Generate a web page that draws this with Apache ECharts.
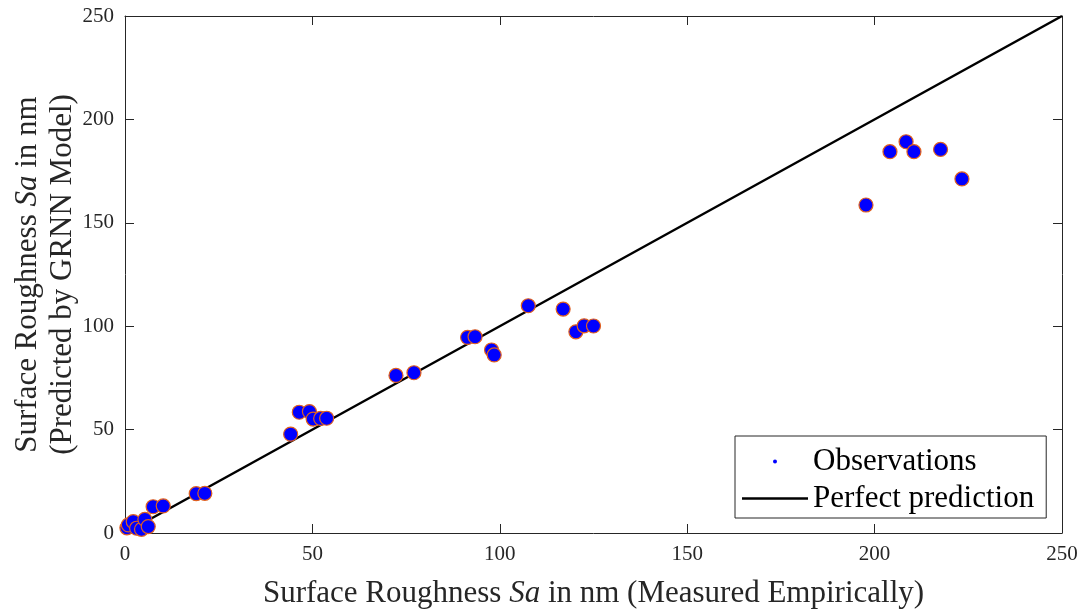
<!DOCTYPE html>
<html>
<head>
<meta charset="utf-8">
<script src="https://cdn.jsdelivr.net/npm/echarts@6/dist/echarts.min.js"></script>
<style>
  html, body { margin: 0; padding: 0; background: #fff; }
  #chart { width: 1085px; height: 612px; }
</style>
</head>
<body>
<div id="chart"></div>
<script>
// measured vs predicted Sa (nm)
const measured = [0.5, 0.9, 2.2, 3.1, 4.4, 5.3, 6.2, 7.5, 10.2, 19.0, 21.3,
  44.2, 46.5, 49.2, 50.2, 52.2, 53.8, 72.3, 77.1, 91.4, 93.4, 97.8, 98.5,
  107.6, 116.9, 120.3, 122.5, 125.0, 197.7, 204.1, 208.4, 210.5, 217.6, 223.3];
const predicted = [2.5, 3.9, 5.5, 2.3, 1.8, 6.6, 3.1, 12.7, 13.1, 19.0, 19.2,
  47.8, 58.4, 58.7, 55.1, 55.4, 55.5, 76.2, 77.5, 94.6, 94.9, 88.5, 86.1,
  109.9, 108.3, 97.3, 100.2, 100.1, 158.6, 184.4, 189.2, 184.4, 185.5, 171.2];
const perfectX = [0, 250];
const perfectY = [0, 250];
const ticks = [0, 50, 100, 150, 200, 250];

const font = '"Liberation Serif", "Times New Roman", serif';
const axisColor = '#262626';

const chart = echarts.init(document.getElementById('chart'));

const baseAxis = {
  type: 'value',
  min: ticks[0],
  max: ticks[ticks.length - 1],
  interval: ticks[1] - ticks[0],
  splitLine: { show: false },
  axisLine: { onZero: false, lineStyle: { color: axisColor, width: 1 } },
  axisTick: { inside: true, length: 9, lineStyle: { color: axisColor } },
  axisLabel: { color: axisColor, fontFamily: font, fontSize: 21, margin: 11 }
};

const rich = {
  n: { fontFamily: font, fontSize: 31, color: axisColor, lineHeight: 35 },
  i: { fontFamily: font, fontSize: 31, color: axisColor, fontStyle: 'italic', lineHeight: 35 }
};

chart.setOption({
  animation: false,
  grid: { left: 125, right: 23, top: 16, bottom: 79, outerBoundsMode: 'none' },
  legend: {
    orient: 'vertical',
    left: 735,
    top: 436,
    padding: [8, 12, 2, 7],
    itemGap: 2,
    itemWidth: 66,
    itemHeight: 4,
    borderColor: axisColor,
    borderWidth: 1,
    borderRadius: 0,
    backgroundColor: '#fff',
    textStyle: { fontFamily: font, fontSize: 31, color: '#000', lineHeight: 35 },
    data: [
      { name: 'Observations', icon: 'circle', itemStyle: { color: '#0000ff', borderWidth: 0 } },
      { name: 'Perfect prediction', icon: 'path://M0,0L66,0L66,2.5L0,2.5Z', itemStyle: { color: '#000', borderWidth: 0 } }
    ]
  },
  xAxis: [
    Object.assign({}, baseAxis, {
      position: 'bottom',
      name: '{n|Surface Roughness }{i|Sa}{n| in nm (Measured Empirically)}',
      nameLocation: 'middle',
      nameGap: 43,
      nameTextStyle: { rich: rich }
    }),
    Object.assign({}, baseAxis, { position: 'top', axisLabel: { show: false } })
  ],
  yAxis: [
    Object.assign({}, baseAxis, {
      position: 'left',
      name: '{n|Surface Roughness }{i|Sa}{n| in nm}\n{n|(Predicted by GRNN Model)}',
      nameLocation: 'middle',
      nameGap: 45,
      nameMoveOverlap: false,
      nameTextStyle: { rich: rich }
    }),
    Object.assign({}, baseAxis, { position: 'right', axisLabel: { show: false } })
  ],
  series: [
    {
      name: 'Observations',
      type: 'scatter',
      xAxisIndex: 0,
      yAxisIndex: 0,
      symbol: 'circle',
      symbolSize: 14,
      clip: false,
      z: 3,
      itemStyle: { color: '#0000ff', borderColor: '#e0601f', borderWidth: 1.2, opacity: 1 },
      data: measured.map((x, i) => [x, predicted[i]])
    },
    {
      name: 'Perfect prediction',
      type: 'line',
      xAxisIndex: 0,
      yAxisIndex: 0,
      symbol: 'none',
      z: 2,
      lineStyle: { color: '#000', width: 2.5 },
      itemStyle: { color: '#000' },
      data: perfectX.map((x, i) => [x, perfectY[i]])
    }
  ]
});
</script>
</body>
</html>
